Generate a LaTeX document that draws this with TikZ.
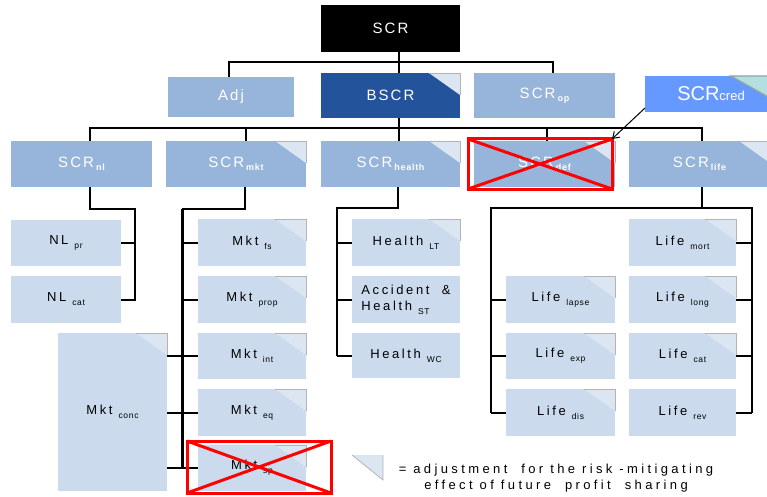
\documentclass[tikz,border=0pt]{standalone}
\usepackage{fontspec}
\setmainfont{Liberation Sans}
\newfontfamily\whitefont[LetterSpace=14]{Liberation Sans}
\newfontfamily\blackfont[LetterSpace=20]{Liberation Sans}
\newfontfamily\notefont[LetterSpace=26]{Liberation Sans}
\newfontfamily\subfont[LetterSpace=8]{Liberation Sans}
\usetikzlibrary{arrows.meta}

\definecolor{rowblue}{HTML}{97B4DA}
\definecolor{leafblue}{HTML}{CBDAEC}
\definecolor{bscrblue}{HTML}{23539B}
\definecolor{credblue}{HTML}{6699FF}
\definecolor{earfill}{HTML}{DCE6F2}
\definecolor{earedge}{HTML}{B4B4B4}
\definecolor{credear}{HTML}{B3DFE0}
\definecolor{credearedge}{HTML}{8FA6A6}

% subscripts of the module labels
\newcommand\subrow[1]{\kern2pt\raisebox{-3pt}{\subfont\bfseries\fontsize{9}{9}\selectfont #1}}
\newcommand\subleaf[1]{\hspace{6pt}\raisebox{-4pt}{\subfont\fontsize{8.5}{8.5}\selectfont #1}}

% folded corner marking the profit-sharing adjustment
\newcommand\earon[1]{%
  \fill[earfill] ([xshift=-31pt]#1.north east) -- (#1.north east) -- ([yshift=-22pt]#1.north east) -- cycle;
  \draw[earedge, line width=0.8pt] ([xshift=-31pt]#1.north east) -- (#1.north east) -- ([yshift=-22pt]#1.north east);}

% red cross over a module that is left out
\newcommand\crossnode[1]{%
  \draw[red, line width=3pt] (#1.north west) -- (#1.south east) (#1.south west) -- (#1.north east);}

\begin{document}
\begin{tikzpicture}[x=1pt, y=-1pt,
  box/.style={rectangle, inner sep=0pt, outer sep=0pt, anchor=north west},
  size/.style 2 args={minimum width=#1pt, minimum height=#2pt},
  rowbox/.style={box, fill=rowblue, text=white, font=\whitefont\fontsize{15}{15}\selectfont},
  leaf/.style={box, fill=leafblue, text=black, font=\blackfont\fontsize{13}{16}\selectfont},
  crossbox/.style={box, draw=red, line width=3pt},
  wire/.style={line width=2pt, black},
  trunk/.style={line width=3pt, black},
  pointer/.style={line width=1pt, black, -{Straight Barb[length=6pt, width=8pt]}}]

\useasboundingbox (0,0) rectangle (767,497);
\clip (0,0) rectangle (767,497);

% ---- top levels ----
\node[box, size={139}{47}, fill=black, text=white, font=\whitefont\fontsize{15}{15}\selectfont] (scr) at (321,5) {SCR};
\node[rowbox, size={126}{40}] (adj) at (168,77) {Adj};
\node[rowbox, size={139}{45}, fill=bscrblue] (bscr) at (321,73) {BSCR};
\node[rowbox, size={141}{45}] (op) at (474,73) {SCR\subrow{op}};
\node[box, size={132}{36}, fill=credblue, text=white] (cred) at (645,76)
  {\fontsize{20}{20}\selectfont SCR{\fontsize{13}{13}\selectfont cred}\hspace{14pt}};

\node[rowbox, size={141}{46}] (nl) at (11,141) {SCR\subrow{nl}};
\node[rowbox, size={140}{46}] (mkt) at (166,141) {SCR\subrow{mkt}};
\node[rowbox, size={139}{46}] (health) at (321,141) {SCR\subrow{health}};
\node[rowbox, size={141}{46}] (def) at (474,141) {SCR\subrow{def}};
\node[rowbox, size={141}{46}] (life) at (629,141) {SCR\subrow{life}};

% ---- non-life ----
\node[leaf, size={110}{46}] (nlpr) at (11,220) {NL\subleaf{pr}};
\node[leaf, size={110}{47}] (nlcat) at (11,276) {NL\subleaf{cat}};

% ---- market ----
\node[leaf, size={108}{47}] (fs) at (198,219) {Mkt\subleaf{fs}};
\node[leaf, size={108}{47}] (prop) at (198,276) {Mkt\subleaf{prop}};
\node[leaf, size={108}{46}] (int) at (198,333) {Mkt\subleaf{int}};
\node[leaf, size={108}{47}] (eq) at (198,389) {Mkt\subleaf{eq}};
\node[leaf, size={108}{46}] (sp) at (198,445) {Mkt\subleaf{sp}};
\node[leaf, size={109}{158}] (conc) at (58,333) {Mkt\subleaf{conc}};

% ---- health ----
\node[leaf, size={108}{47}] (hlt) at (352,219) {Health\subleaf{LT}};
\node[leaf, size={108}{47}, align=left] (hst) at (352,276) {Accident \ \&\\Health\subleaf{ST}};
\node[leaf, size={108}{45}] (hwc) at (352,333) {Health\subleaf{WC}};

% ---- life ----
\node[leaf, size={109}{47}] (lapse) at (506,276) {Life\subleaf{lapse}};
\node[leaf, size={109}{46}] (exp) at (506,333) {Life\subleaf{exp}};
\node[leaf, size={109}{47}] (dis) at (506,389) {Life\subleaf{dis}};
\node[leaf, size={107}{47}] (mort) at (629,219) {Life\subleaf{mort}};
\node[leaf, size={107}{47}] (long) at (629,276) {Life\subleaf{long}};
\node[leaf, size={107}{46}] (cat) at (629,333) {Life\subleaf{cat}};
\node[leaf, size={107}{47}] (rev) at (629,389) {Life\subleaf{rev}};

% folded corners
\foreach \n in {bscr,mkt,health,def,life,fs,prop,int,eq,sp,conc,hlt,lapse,exp,dis,mort,long,cat}{\earon{\n}}
\fill[credear] ([xshift=-46pt]cred.north east) -- (cred.north east) -- ([yshift=-26pt]cred.north east) -- cycle;
\draw[credearedge, line width=1.2pt] ([yshift=-26pt]cred.north east) -- ([xshift=-46pt]cred.north east) -- (cred.north east);

% ---- connectors ----
\coordinate (topbus) at (0,62);
\coordinate (rowbus) at (0,128);
\draw[wire] ([xshift=8pt]scr.south) -- ([xshift=8pt]bscr.north);
\draw[wire] ([xshift=-2pt]adj.north) -- ([xshift=-2pt]adj.north |- topbus) -- ([xshift=8pt]op.north |- topbus) -- ([xshift=8pt]op.north);
\draw[wire] ([xshift=8pt]bscr.south) -- ([xshift=8pt]health.north);
\draw[wire] ([xshift=8pt]nl.north) -- ([xshift=8pt]nl.north |- rowbus) -- ([xshift=2pt]life.north |- rowbus) -- ([xshift=2pt]life.north);
\draw[wire] ([xshift=10pt]mkt.north) -- ([xshift=10pt]mkt.north |- rowbus);
\draw[wire] ([xshift=2pt]def.north) -- ([xshift=2pt]def.north |- rowbus);

% non-life branch
\coordinate (nlbus) at (135,209);
\draw[wire] ([xshift=8pt]nl.south) |- (nlbus) -- (nlbus |- nlcat.east) -- (nlcat.east);
\draw[wire] (nlpr.east) -- (nlpr.east -| nlbus);

% market branch
\coordinate (mktbus) at (182,209);
\draw[wire] ([xshift=9pt]mkt.south) |- (mktbus);
\draw[trunk] (mktbus) -- (mktbus |- sp.west);
\foreach \n in {fs,prop}{\draw[wire] (\n.west) -- (\n.west -| mktbus);}
\foreach \n in {int,eq,sp}{\draw[wire] (conc.east |- \n.west) -- (\n.west);}

% health branch
\coordinate (hbus) at (337,208);
\draw[wire] ([xshift=7pt]health.south) |- (hbus) -- (hbus |- hwc.west);
\foreach \n in {hlt,hst,hwc}{\draw[wire] (\n.west) -- (\n.west -| hbus);}

% life branch
\coordinate (lbusl) at (491,208);
\coordinate (lbusr) at (752,208);
\draw[wire] ([xshift=2pt]life.south) -- ([xshift=2pt]life.south |- lbusl);
\draw[wire] (lbusl |- dis.west) -- (lbusl) -- (lbusr) -- (lbusr |- rev.east);
\foreach \n in {lapse,exp,dis}{\draw[wire] (\n.west) -- (\n.west -| lbusl);}
\foreach \n in {mort,long,cat,rev}{\draw[wire] (\n.east) -- (\n.east -| lbusr);}

% ---- crossed out modules ----
\node[crossbox, size={144}{50}] (defx) at (468,139) {};
\crossnode{defx}
\node[crossbox, size={144}{52}] (spx) at (187,441) {};
\crossnode{spx}

\draw[pointer] ([yshift=4pt]cred.south west) -- (defx.north east);

% ---- legend ----
\fill[earfill] (352,455) -- (383,455) -- (383,480) -- cycle;
\draw[earedge, line width=0.8pt] (352,455) -- (383,480) -- (383,455);
\node[align=center, inner sep=0pt, font=\notefont\fontsize{13}{16}\selectfont] (legend) at (556,478)
  {= adjustment \ for the risk -mitigating\\effect of future \ profit \ sharing};

\end{tikzpicture}
\end{document}
